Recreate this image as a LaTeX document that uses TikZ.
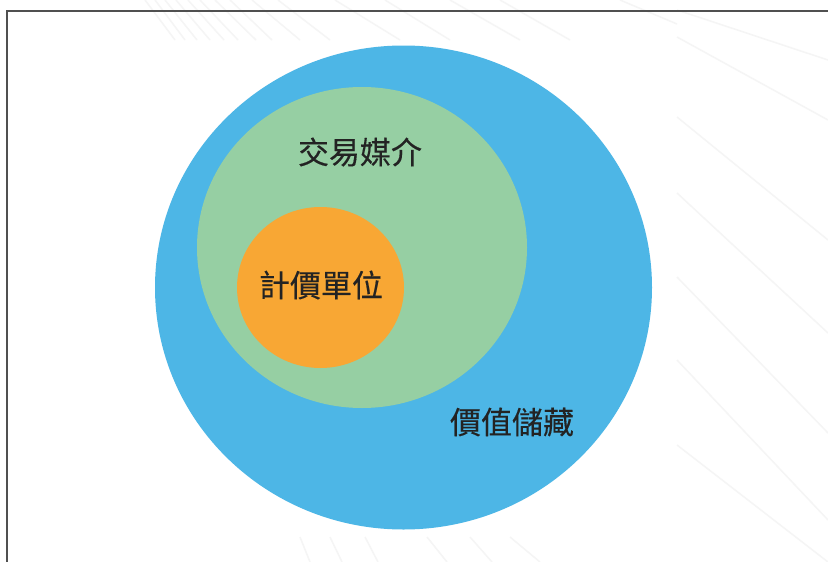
\documentclass[tikz,border=0pt]{standalone}
\usepackage{fontspec}
\newfontfamily\cjk[FakeBold=0.35]{Noto Sans CJK TC}
\usetikzlibrary{shapes.geometric}
\definecolor{cblue}{RGB}{77,182,230}
\definecolor{cgreen}{RGB}{150,207,163}
\definecolor{corange}{RGB}{248,167,52}
\definecolor{ctext}{RGB}{35,35,35}
\definecolor{cframe}{RGB}{80,80,80}
\definecolor{cfaint}{RGB}{245,245,245}
\tikzset{
  disc/.style={ellipse, draw=none, inner sep=0pt},
  label/.style={text=ctext, font=\cjk\fontsize{31}{36}\selectfont, inner sep=0pt},
  faint/.style={draw=cfaint, line width=1.5pt}
}
\begin{document}
\begin{tikzpicture}[x=1pt,y=-1pt]
\useasboundingbox (0,0) rectangle (828,562);
\fill[white] (0,0) rectangle (828,562);
% faint background rays
\foreach \a/\b in {145/175,155/185,165/197,176/210,188/224,200/238,215/256,230/272,252/300,278/330,335/400,385/450,450/520,500/570}
  \draw[faint] (\a,0) -- (\b,40);
\foreach \ya/\yb in {10/60,37/120,117/240,193/333,277/433,360/520,445/562}
  \draw[faint] (677,\ya) -- (828,\yb);
\draw[faint] (620,0) -- (677,24);
\foreach \a/\b in {300/310,330/342,365/378,427/447,470/492,510/540}
  \draw[faint] (\a,537) -- (\b,562);
% frame
\draw[cframe, line width=1.5pt] (828,10.8) -- (6.8,10.8) -- (6.8,562);
% circles
\node[disc, fill=cblue, minimum width=497pt, minimum height=484pt] (store) at (403.5,287.5) {};
\node[disc, fill=cgreen, minimum width=330pt, minimum height=321pt] (medium) at (362,247.5) {};
\node[disc, fill=corange, minimum width=167pt, minimum height=161pt] (unit) at (320.5,287.5) {};
% labels
\node[label] (tmedium) at (360,152) {交易媒介};
\node[label] (tunit) at (321,285) {計價單位};
\node[label] (tstore) at (512,422) {價值儲藏};
\end{tikzpicture}
\end{document}
